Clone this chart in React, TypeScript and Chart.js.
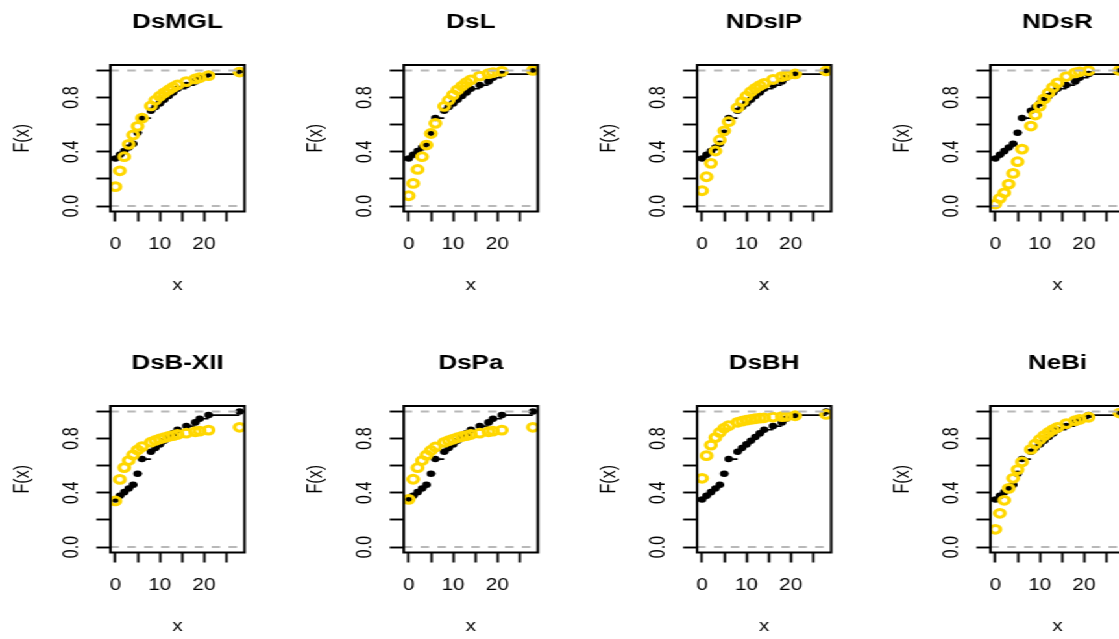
import React, { useEffect, useRef } from 'react';
import { Chart, registerables } from 'chart.js';

Chart.register(...registerables);

// ---------------- data ----------------
const panelTitles = ['DsMGL', 'DsL', 'NDsIP', 'NDsR', 'DsB-XII', 'DsPa', 'DsBH', 'NeBi'];

// distinct observed values and empirical CDF at them
const xValues = [0, 1, 2, 3, 4, 5, 6, 8, 9, 10, 11, 12, 13, 14, 16, 18, 19, 21, 28];
const ecdfValues = [0.351, 0.378, 0.405, 0.432, 0.459, 0.541, 0.649, 0.703, 0.73, 0.757, 0.784, 0.811, 0.838, 0.865, 0.892, 0.919, 0.946, 0.973, 1.0];

// fitted CDFs (yellow circles)
const fitDsMGL = [0.143, 0.26, 0.364, 0.455, 0.524, 0.588, 0.648, 0.738, 0.78, 0.81, 0.835, 0.856, 0.876, 0.893, 0.917, 0.937, 0.946, 0.962, 0.988];
const fitDsL = [0.076, 0.167, 0.27, 0.364, 0.45, 0.535, 0.61, 0.735, 0.78, 0.82, 0.857, 0.885, 0.91, 0.93, 0.958, 0.976, 0.984, 0.993, 1.0];
const fitNDsIP = [0.113, 0.216, 0.315, 0.406, 0.487, 0.555, 0.622, 0.725, 0.77, 0.81, 0.843, 0.868, 0.888, 0.905, 0.933, 0.955, 0.963, 0.975, 0.996];
const fitNDsR = [0.015, 0.057, 0.098, 0.162, 0.241, 0.327, 0.42, 0.59, 0.671, 0.737, 0.79, 0.835, 0.875, 0.908, 0.955, 0.982, 0.99, 0.998, 1.0];
const fitDsBXII = [0.34, 0.499, 0.586, 0.638, 0.68, 0.716, 0.741, 0.773, 0.786, 0.797, 0.806, 0.815, 0.822, 0.83, 0.84, 0.85, 0.855, 0.862, 0.883];
const fitDsPa = [0.352, 0.5, 0.585, 0.638, 0.678, 0.712, 0.738, 0.772, 0.785, 0.796, 0.806, 0.815, 0.822, 0.83, 0.84, 0.85, 0.855, 0.862, 0.883];
const fitDsBH = [0.507, 0.674, 0.752, 0.807, 0.846, 0.876, 0.895, 0.92, 0.929, 0.936, 0.941, 0.946, 0.95, 0.953, 0.958, 0.962, 0.964, 0.968, 0.978];
const fitNeBi = [0.131, 0.249, 0.345, 0.433, 0.507, 0.571, 0.628, 0.72, 0.76, 0.793, 0.822, 0.846, 0.866, 0.882, 0.91, 0.932, 0.941, 0.957, 0.988];

const fittedSeries = [fitDsMGL, fitDsL, fitNDsIP, fitNDsR, fitDsBXII, fitDsPa, fitDsBH, fitNeBi];

const xTickValues = [0, 5, 10, 15, 20, 25];
const xTickLabels = ['0', '', '10', '', '20', ''];
const yTickValues = [0, 0.2, 0.4, 0.6, 0.8, 1.0];
const yTickLabels = ['0.0', '', '0.4', '', '0.8', ''];
const refLines = [0, 1];
const xLimits = [-1.12, 29.12];
const yLimits = [-0.04, 1.04];

// ---------------- layout / style ----------------
const FONT = '"Liberation Sans", Arial, Helvetica, sans-serif';
const PANEL_W = 226;
const PANEL_H = 341;
const STRETCH = 293.333 / PANEL_W;
const AREA_LEFT = 85.1;
const AREA_RIGHT = 188.4;
const AREA_TOP = 65;
const AREA_BOTTOM = 211.5;
const GOLD = '#FFD700';

const framePlugin = {
  id: 'rframe',
  afterDatasetsDraw(chart: any) {
    const { ctx, chartArea: a, scales } = chart;
    const y = scales.y;
    ctx.save();
    ctx.strokeStyle = '#B8B8B8';
    ctx.lineWidth = 2;
    ctx.setLineDash([6.5, 6.5]);
    refLines.forEach((v) => {
      const py = y.getPixelForValue(v);
      ctx.beginPath();
      ctx.moveTo(a.left, py);
      ctx.lineTo(a.right, py);
      ctx.stroke();
    });
    ctx.setLineDash([]);
    ctx.strokeStyle = '#000';
    ctx.lineWidth = 2;
    ctx.strokeRect(a.left, a.top, a.right - a.left, a.bottom - a.top);
    ctx.restore();
  },
};

function stepData() {
  const xs = [xLimits[0], ...xValues, xLimits[1]];
  const fs = [0, ...ecdfValues];
  const pts: any[] = [];
  for (let i = 0; i < fs.length; i++) {
    pts.push({ x: xs[i], y: fs[i] });
    pts.push({ x: xs[i + 1], y: fs[i] });
    pts.push({ x: xs[i + 1], y: null });
  }
  return pts;
}

function Panel({ title, fitted }: { title: string; fitted: number[] }) {
  const ref = useRef<HTMLCanvasElement>(null);
  useEffect(() => {
    const titleLH = 20 * 1.2;
    const titlePadTop = 22 - titleLH / 2;
    const chart = new Chart(ref.current as HTMLCanvasElement, {
      type: 'scatter',
      data: {
        datasets: [
          {
            label: 'fitted',
            data: xValues.map((x, i) => ({ x, y: fitted[i] })),
            showLine: false,
            pointRadius: 3.9,
            pointBorderWidth: 3,
            pointBorderColor: GOLD,
            pointBackgroundColor: 'rgba(0,0,0,0)',
          },
          {
            label: 'step',
            data: stepData(),
            showLine: true,
            spanGaps: false,
            borderColor: '#000',
            borderWidth: 1.7,
            pointRadius: 0,
          },
          {
            label: 'ecdf',
            data: xValues.map((x, i) => ({ x, y: ecdfValues[i] })),
            showLine: false,
            pointRadius: 3.3,
            pointBorderWidth: 0,
            pointBackgroundColor: '#000',
            pointBorderColor: '#000',
          },
        ],
      } as any,
      options: {
        animation: false,
        responsive: false,
        devicePixelRatio: 1,
        events: [],
        layout: { padding: { left: 0, top: 0, right: PANEL_W - AREA_RIGHT, bottom: 0 } },
        plugins: {
          legend: { display: false },
          tooltip: { enabled: false },
          title: {
            display: true,
            text: title,
            fullSize: false,
            color: '#000',
            font: { family: FONT, size: 20, weight: 'bold', lineHeight: 1.2 },
            padding: { top: titlePadTop, bottom: AREA_TOP - titlePadTop - titleLH },
          },
        },
        scales: {
          x: {
            type: 'linear',
            position: 'bottom',
            min: xLimits[0],
            max: xLimits[1],
            afterBuildTicks: (s: any) => {
              s.ticks = xTickValues.map((v) => ({ value: v }));
            },
            afterFit: (s: any) => {
              s.height = PANEL_H - AREA_BOTTOM;
            },
            ticks: {
              autoSkip: false,
              maxRotation: 0,
              minRotation: 0,
              padding: 13.9,
              color: '#000',
              font: { family: FONT, size: 16 },
              callback: (_v: any, i: number) => xTickLabels[i],
            },
            grid: { drawOnChartArea: false, drawTicks: true, tickLength: 10, tickWidth: 1.9, tickColor: '#000' },
            border: { display: false },
            title: {
              display: true,
              text: 'x',
              color: '#000',
              font: { family: FONT, size: 16 },
              padding: { top: 0, bottom: 45.8 },
            },
          },
          y: {
            type: 'linear',
            position: 'left',
            min: yLimits[0],
            max: yLimits[1],
            afterBuildTicks: (s: any) => {
              s.ticks = yTickValues.map((v) => ({ value: v }));
            },
            afterFit: (s: any) => {
              s.width = AREA_LEFT;
            },
            ticks: {
              autoSkip: false,
              minRotation: 90,
              maxRotation: 90,
              crossAlign: 'center',
              padding: 7.3,
              color: '#000',
              font: { family: FONT, size: 16 },
              callback: (_v: any, i: number) => yTickLabels[i],
            },
            grid: { drawOnChartArea: false, drawTicks: true, tickLength: 10.8, tickWidth: 1.9, tickColor: '#000' },
            border: { display: false },
            title: {
              display: true,
              text: 'F(x)',
              color: '#000',
              font: { family: FONT, size: 16 },
              padding: { top: 8.4, bottom: 0 },
            },
          },
        },
      } as any,
      plugins: [framePlugin],
    });
    return () => chart.destroy();
  }, [title, fitted]);
  return <canvas ref={ref} width={PANEL_W} height={PANEL_H} />;
}

export default function App() {
  return (
    <div
      style={{
        position: 'fixed',
        left: 0,
        top: 0,
        width: 1119,
        height: 639,
        overflow: 'hidden',
        background: '#fff',
      }}
    >
      <div
        style={{
          position: 'absolute',
          left: 0,
          top: 0,
          width: PANEL_W * 4,
          height: PANEL_H * 2,
          transform: `scaleX(${STRETCH})`,
          transformOrigin: '0 0',
        }}
      >
        {panelTitles.map((t, i) => (
          <div
            key={t}
            style={{
              position: 'absolute',
              left: (i % 4) * PANEL_W,
              top: Math.floor(i / 4) * PANEL_H,
              width: PANEL_W,
              height: PANEL_H,
            }}
          >
            <Panel title={t} fitted={fittedSeries[i]} />
          </div>
        ))}
      </div>
    </div>
  );
}
